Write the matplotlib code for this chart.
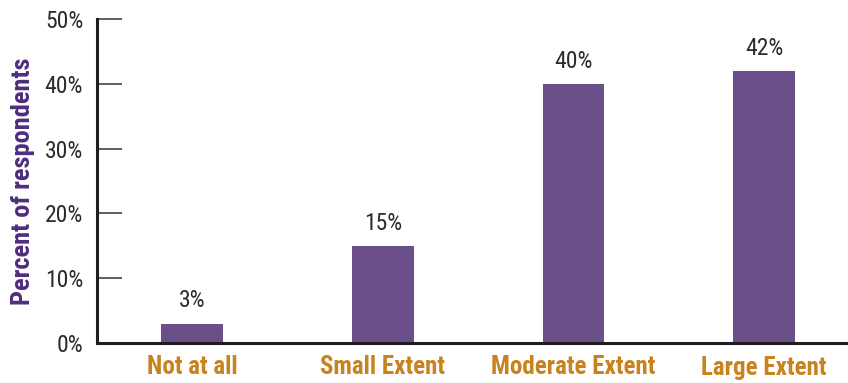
import matplotlib
matplotlib.use("Agg")
import matplotlib.pyplot as plt
from matplotlib.ticker import FuncFormatter

categories = ["Not at all", "Small Extent", "Moderate Extent", "Large Extent"]
percent = [3, 15, 40, 42]
y_ticks = [0, 10, 20, 30, 40, 50]

bar_color = "#6a4f8a"
label_orange = "#c8821e"
axis_purple = "#4f2d7f"
text_dark = "#2b2b2b"

plt.rcParams["font.family"] = ["Roboto Condensed", "DejaVu Sans"]

fig = plt.figure(figsize=(8.48, 3.83), dpi=100)
ax = fig.add_axes([97 / 848, 40 / 383, 1 - 97 / 848, 324 / 383])

x = range(len(categories))
ax.bar(x, percent, width=0.325, color=bar_color, zorder=2)

for xi, v in zip(x, percent):
    ax.annotate(f"{v}%", (xi, v), xytext=(0, 8), textcoords="offset points",
                ha="center", va="bottom", fontsize=17, color=text_dark)

ax.set_xlim(-0.5, 3.44)
ax.set_ylim(0, 50)
ax.set_yticks(y_ticks)
ax.yaxis.set_major_formatter(FuncFormatter(lambda v, p: f"{v:.0f}%"))
ax.set_xticks(list(x))
ax.set_xticklabels(categories, fontsize=18, fontweight="bold", color=label_orange)

ax.tick_params(axis="y", direction="in", length=18, width=1.2, color="#444444",
               labelsize=17, labelcolor=text_dark, pad=10)
ax.tick_params(axis="x", length=0, pad=9)

for s in ["top", "right"]:
    ax.spines[s].set_visible(False)
for s in ["left", "bottom"]:
    ax.spines[s].set_linewidth(2.2)
    ax.spines[s].set_color("#1e1e1e")

ax.set_ylabel("Percent of respondents", fontsize=19, fontweight="bold",
              color=axis_purple, labelpad=7)

fig.savefig("out.png", dpi=100)
